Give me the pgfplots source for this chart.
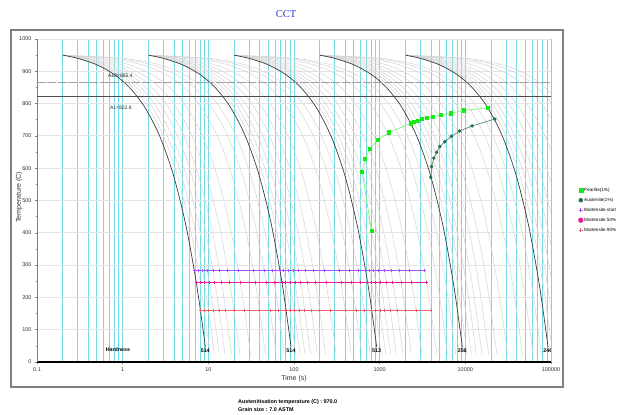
\documentclass[border=0pt]{standalone}
\usepackage{pgfplots}
\pgfplotsset{compat=1.18}
\usepackage{pgfplotstable}
\usepackage{fontspec}
\setmainfont{Liberation Sans}
\newfontfamily\seriffont{Liberation Serif}
\definecolor{gridcyan}{RGB}{115,218,228}
\definecolor{hgrid}{RGB}{228,228,228}
\definecolor{curvegrey}{RGB}{212,212,212}
\definecolor{curvedark}{RGB}{60,60,60}
\definecolor{msc}{RGB}{175,80,255}
\definecolor{m50c}{RGB}{232,30,150}
\definecolor{m90c}{RGB}{226,100,110}
\definecolor{pearl}{RGB}{20,235,20}
\definecolor{pearlline}{RGB}{120,245,120}
\definecolor{aust}{RGB}{40,110,70}
\definecolor{titleblue}{RGB}{50,50,230}

% cooling curves: T and time (s) for cooling rates 90,80,70,60,50,40,30,20,15,12 (x 10^-k)
\pgfplotstableread{
T b c d e f g h i j k
950 0.2 0.2 0.2 0.2 0.2 0.2 0.2 0.2 0.2 0.2
940 0.311 0.325 0.343 0.367 0.4 0.45 0.533 0.7 0.867 1.033
920 0.533 0.575 0.629 0.7 0.8 0.95 1.2 1.7 2.2 2.7
890 0.867 0.95 1.057 1.2 1.4 1.7 2.2 3.2 4.2 5.2
850 1.311 1.45 1.629 1.867 2.2 2.7 3.533 5.2 6.867 8.533
790 1.978 2.2 2.486 2.867 3.4 4.2 5.533 8.2 10.867 13.533
700 2.978 3.325 3.771 4.367 5.2 6.45 8.533 12.7 16.867 21.033
580 4.311 4.825 5.486 6.367 7.6 9.45 12.533 18.7 24.867 31.033
420 6.089 6.825 7.771 9.033 10.8 13.45 17.867 26.7 35.533 44.367
230 8.2 9.2 10.486 12.2 14.6 18.2 24.2 36.2 48.2 60.2
25 10.478 11.76 13.414 15.617 18.7 23.325 31.033 46.45 61.867 77.283
}\famA
\pgfplotstableread{
T b c d e f g h i j k
950 2 2 2 2 2 2 2 2 2 2
940 3.11 3.25 3.43 3.67 4 4.5 5.33 7 8.67 10.33
920 5.33 5.75 6.29 7 8 9.5 12 17 22 27
890 8.67 9.5 10.57 12 14 17 22 32 42 52
850 13.11 14.5 16.29 18.67 22 27 35.33 52 68.67 85.33
790 19.78 22 24.86 28.67 34 42 55.33 82 108.67 135.33
700 29.78 33.25 37.71 43.67 52 64.5 85.33 127 168.67 210.33
580 43.11 48.25 54.86 63.67 76 94.5 125.33 187 248.67 310.33
420 60.89 68.25 77.71 90.33 108 134.5 178.67 267 355.33 443.67
230 82 92 104.86 122 146 182 242 362 482 602
25 104.78 117.6 134.14 156.17 187 233.25 310.33 464.5 618.67 772.83
}\famB
\pgfplotstableread{
T b c d e f g h i j k
950 20 20 20 20 20 20 20 20 20 20
940 31.1 32.5 34.3 36.7 40 45 53.3 70 86.7 103.3
920 53.3 57.5 62.9 70 80 95 120 170 220 270
890 86.7 95 105.7 120 140 170 220 320 420 520
850 131.1 145 162.9 186.7 220 270 353.3 520 686.7 853.3
790 197.8 220 248.6 286.7 340 420 553.3 820 1086.7 1353.3
700 297.8 332.5 377.1 436.7 520 645 853.3 1270 1686.7 2103.3
580 431.1 482.5 548.6 636.7 760 945 1253.3 1870 2486.7 3103.3
420 608.9 682.5 777.1 903.3 1080 1345 1786.7 2670 3553.3 4436.7
230 820 920 1048.6 1220 1460 1820 2420 3620 4820 6020
25 1047.8 1176 1341.4 1561.7 1870 2332.5 3103.3 4645 6186.7 7728.3
}\famC
\pgfplotstableread{
T b c d e f g h i j k
950 200 200 200 200 200 200 200 200 200 200
940 311 325 343 367 400 450 533 700 867 1033
920 533 575 629 700 800 950 1200 1700 2200 2700
890 867 950 1057 1200 1400 1700 2200 3200 4200 5200
850 1311 1450 1629 1867 2200 2700 3533 5200 6867 8533
790 1978 2200 2486 2867 3400 4200 5533 8200 10867 13533
700 2978 3325 3771 4367 5200 6450 8533 12700 16867 21033
580 4311 4825 5486 6367 7600 9450 12533 18700 24867 31033
420 6089 6825 7771 9033 10800 13450 17867 26700 35533 44367
230 8200 9200 10486 12200 14600 18200 24200 36200 48200 60200
25 10478 11760 13414 15617 18700 23325 31033 46450 61867 77283
}\famD
\pgfplotstableread{
T b c d e f g h i j k
950 2000 2000 2000 2000 2000 2000 2000 2000 2000 2000
940 3110 3250 3430 3670 4000 4500 5330 7000 8670 10330
920 5330 5750 6290 7000 8000 9500 12000 17000 22000 27000
890 8670 9500 10570 12000 14000 17000 22000 32000 42000 52000
850 13110 14500 16290 18670 22000 27000 35330 52000 68670 85330
790 19780 22000 24860 28670 34000 42000 55330 82000 108670 135330
700 29780 33250 37710 43670 52000 64500 85330 127000 168670 210330
580 43110 48250 54860 63670 76000 94500 125330 187000 248670 310330
420 60890 68250 77710 90330 108000 134500 178670 267000 355330 443670
230 82000 92000 104860 122000 146000 182000 242000 362000 482000 602000
25 104780 117600 134140 156170 187000 233250 310330 464500 618670 772830
}\famE
% highlighted cooling curves (rates 100, 10, 1, 0.1, 0.01 C/s)
\pgfplotstableread{
T a b c d e
950 0.2 2 20 200 2000
940 0.3 3 30 300 3000
920 0.5 5 50 500 5000
890 0.8 8 80 800 8000
850 1.2 12 120 1200 12000
790 1.8 18 180 1800 18000
700 2.7 27 270 2700 27000
580 3.9 39 390 3900 39000
420 5.5 55 550 5500 55000
230 7.4 74 740 7400 74000
45 9.25 92.5 925 9250 92500
}\darkcurves

\begin{document}
\begin{tikzpicture}
\useasboundingbox (0pt,0pt) rectangle (619pt,415pt);
\draw[gray, line width=1.2pt] (11pt,28pt) rectangle (563pt,385pt);
\node[font=\seriffont\fontsize{10.5}{12}\selectfont, text=titleblue] at (286pt,401pt) {CCT};
\node[anchor=west, font=\bfseries\fontsize{5.4}{6}\selectfont, inner sep=0pt] at (238pt,13pt) {Austenitisation temperature (C) : 970.0};
\node[anchor=west, font=\bfseries\fontsize{5.4}{6}\selectfont, inner sep=0pt] at (238pt,5.7pt) {Grain size : 7.0 ASTM};
\begin{axis}[
  at={(37pt,53pt)}, anchor=south west,
  scale only axis, width=514pt, height=323pt,
  xmode=log, log basis x=10,
  xmin=0.1, xmax=100000, ymin=0, ymax=1000,
  xtick={0.1,1,10,100,1000,10000,100000},
  xticklabels={0.1,1,10,100,1000,10000,100000},
  minor xtick={0.2,0.3,0.4,0.5,0.6,0.7,0.8,0.9,2,3,4,5,6,7,8,9,20,30,40,50,60,70,80,90,200,300,400,500,600,700,800,900,2000,3000,4000,5000,6000,7000,8000,9000,20000,30000,40000,50000,60000,70000,80000,90000},
  ytick={0,100,...,1000},
  minor ytick={50,150,...,950},
  xmajorgrids, xminorgrids, ymajorgrids,
  major x grid style={gridcyan, line width=0.9pt},
  minor x grid style={gridcyan, line width=0.9pt},
  major y grid style={hgrid, line width=0.9pt},
  axis x line*=bottom, axis y line*=left,
  x axis line style={black, line width=1.1pt, -},
  y axis line style={gray, line width=0.8pt, -},
  tick align=outside, major tick length=2pt, minor tick length=1.5pt,
  tick style={gray, line width=0.5pt},
  ticklabel style={font=\fontsize{5.5}{6}\selectfont, text=black!80},
  /pgf/number format/assume math mode=true,
  /pgf/number format/1000 sep={},
  xlabel={Time (s)}, ylabel={Temperature (C)},
  label style={font=\fontsize{7}{8}\selectfont, text=black!80},
  xlabel style={at={(axis description cs:0.5,-0.0526)}, anchor=center},
  ylabel style={at={(axis description cs:-0.035,0.51)}, anchor=center},
  legend style={at={(axis description cs:1.0530,0.5433)}, anchor=north west,
    draw=none, fill=none, font=\fontsize{4.6}{5}\selectfont, inner sep=0pt,
    row sep=3pt, nodes={inner sep=1pt, text height=3.8pt, text depth=1.2pt},
    /tikz/every even column/.append style={column sep=0pt}},
  legend cell align=left,
  legend image code/.code={\draw[#1] plot coordinates {(1.5pt,0pt)};},
]
% light grey cooling curves
\pgfplotsinvokeforeach{b,c,d,e,f,g,h,i,j,k}{
  \addplot[curvegrey, line width=0.5pt, smooth, forget plot] table[x=#1,y=T]{\famA};
  \addplot[curvegrey, line width=0.5pt, smooth, forget plot] table[x=#1,y=T]{\famB};
  \addplot[curvegrey, line width=0.5pt, smooth, forget plot] table[x=#1,y=T]{\famC};
  \addplot[curvegrey, line width=0.5pt, smooth, forget plot] table[x=#1,y=T]{\famD};
  \addplot[curvegrey, line width=0.5pt, smooth, forget plot] table[x=#1,y=T]{\famE};
}
% dark cooling curves
\pgfplotsinvokeforeach{a,b,c,d,e}{
  \addplot[curvedark, line width=0.7pt, smooth, forget plot] table[x=#1,y=T]{\darkcurves};
}
% Ae3 and A1
\addplot[gray!75, line width=1.6pt, dash pattern=on 9pt off 1.5pt, forget plot] coordinates {(0.1,865.4) (100000,865.4)};
\addplot[black!70, line width=0.8pt, forget plot] coordinates {(0.1,822.8) (100000,822.8)};
\node[anchor=west, font=\fontsize{5}{5}\selectfont, inner sep=0pt, text=black!85] at (axis cs:0.675,886) {Ae3=865.4};
\node[anchor=west, font=\fontsize{5}{5}\selectfont, inner sep=0pt, text=black!85] at (axis cs:0.71,786) {A1=822.8};
% martensite lines
\addplot[msc, line width=0.8pt, mark=+, mark size=1.2pt, forget plot] coordinates {
(6.87,283) (7.61,283) (8.54,283) (9.73,283) (11.32,283) (13.54,283) (16.88,283) (22.43,283) (33.55,283) (44.67,283) (55.78,283)
(68.7,283) (76.11,283) (85.38,283) (97.29,283) (113.17,283) (135.4,283) (168.75,283) (224.33,283) (335.5,283) (446.67,283) (557.83,283)
(687,283) (761.1,283) (853.8,283) (972.9,283) (1131.7,283) (1354,283) (1687.5,283) (2243.3,283) (3355,283)};
\addplot[m50c, line width=0.8pt, mark=+, mark size=1.2pt, forget plot] coordinates {
(7.23,246.7) (8.01,246.7) (8.99,246.7) (10.25,246.7) (11.92,246.7) (14.27,246.7) (17.78,246.7) (23.64,246.7) (35.37,246.7) (47.09,246.7) (58.81,246.7)
(72.33,246.7) (80.14,246.7) (89.91,246.7) (102.47,246.7) (119.22,246.7) (142.66,246.7) (177.83,246.7) (236.43,246.7) (353.65,246.7) (470.87,246.7) (588.08,246.7)
(723.3,246.7) (801.4,246.7) (899.1,246.7) (1024.7,246.7) (1192.2,246.7) (1426.6,246.7) (1778.3,246.7) (2364.3,246.7) (3536.5,246.7)};
\addplot[m90c, line width=0.8pt, mark=+, mark size=1.2pt, forget plot] coordinates {
(8.1,160) (8.98,160) (10.08,160) (11.49,160) (13.37,160) (16,160) (19.95,160) (26.53,160) (39.7,160) (52.87,160) (66.03,160)
(81,160) (89.78,160) (100.75,160) (114.86,160) (133.67,160) (160,160) (199.5,160) (265.33,160) (397,160) (528.67,160) (660.33,160)
(810,160) (897.8,160) (1007.5,160) (1148.6,160) (1336.7,160) (1600,160) (1995,160) (2653.3,160) (3970,160)};
% pearlite 1%
\addplot[pearlline, line width=0.7pt, mark=square*, mark size=1.6pt, mark options={draw=pearl, fill=pearl}, forget plot] coordinates {
(804,406.5) (625,588) (678,629) (769,660) (944,687) (1291,711) (2312,739) (2506,744) (2813,747) (3133,752) (3583,756) (4209,759) (5138,765) (6720,770) (9600,779) (18450,787)};
% austenite 1%
\addplot[aust!80, line width=0.7pt, mark=*, mark size=1.4pt, mark options={draw=aust, fill=aust}, forget plot] coordinates {
(3954,572) (4033,605) (4290,631) (4611,649) (5036,667) (5764,682) (6906,699) (8555,715) (12000,731) (22070,752)};
% hardness
\node[font=\bfseries\fontsize{5.3}{6}\selectfont] at (axis cs:0.88,37) {Hardness};
\node[font=\bfseries\fontsize{5.3}{6}\selectfont] at (axis cs:9.2,35) {514};
\node[font=\bfseries\fontsize{5.3}{6}\selectfont] at (axis cs:92,35) {514};
\node[font=\bfseries\fontsize{5.3}{6}\selectfont] at (axis cs:920,35) {513};
\node[font=\bfseries\fontsize{5.3}{6}\selectfont] at (axis cs:9200,35) {256};
\node[font=\bfseries\fontsize{5.3}{6}\selectfont] at (axis cs:92000,35) {246};
% legend
\addlegendimage{only marks, mark=square*, mark size=2pt, pearl}
\addlegendentry{Pearlite(1\%)}
\addlegendimage{only marks, mark=*, mark size=2pt, aust}
\addlegendentry{Austenite(1\%)}
\addlegendimage{only marks, mark=+, mark size=2pt, line width=1pt, msc}
\addlegendentry{Martensite start}
\addlegendimage{only marks, mark=*, mark size=2.4pt, m50c}
\addlegendentry{Martensite 50\%}
\addlegendimage{only marks, mark=+, mark size=2pt, line width=1.2pt, m90c}
\addlegendentry{Martensite 90\%}
\end{axis}
\end{tikzpicture}
\end{document}
